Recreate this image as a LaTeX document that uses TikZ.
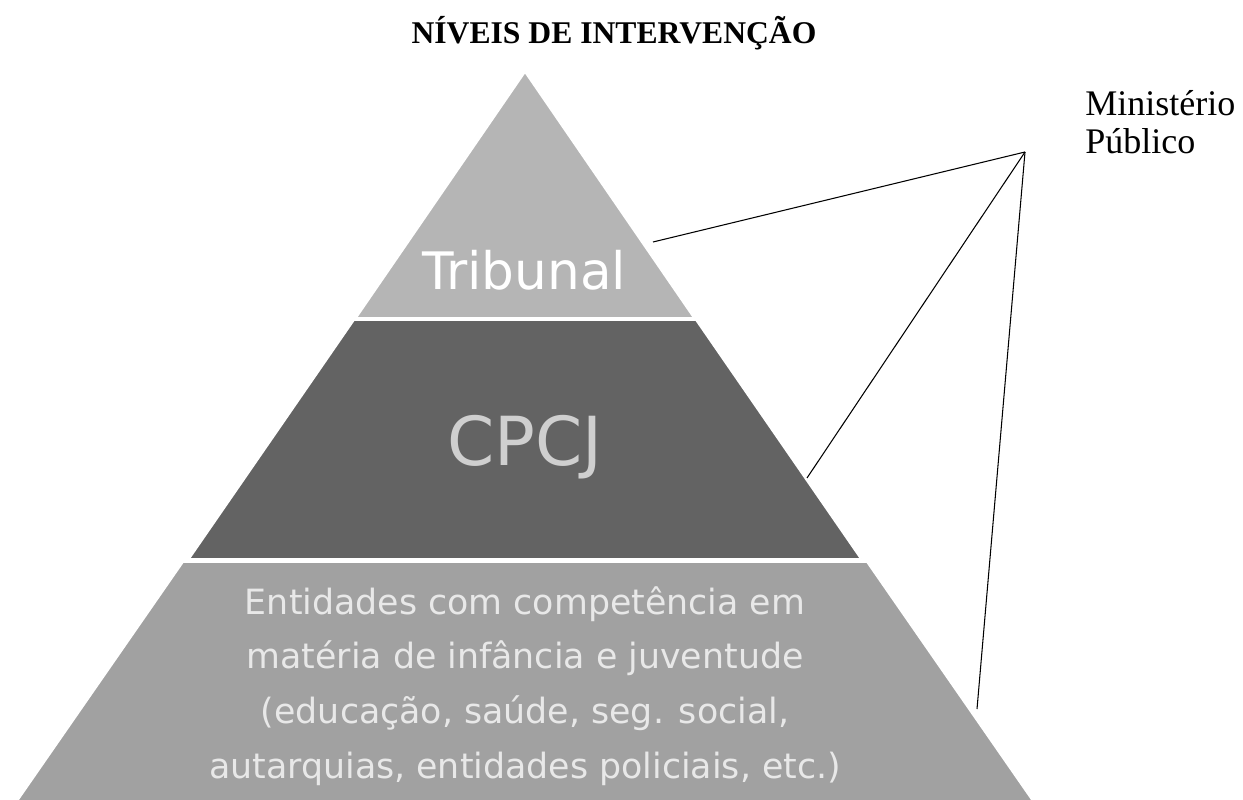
\documentclass[tikz,border=0pt]{standalone}
\usepackage{fontspec}
\setmainfont{Liberation Serif}
\newfontfamily\handfont{DejaVu Sans}
\usetikzlibrary{positioning}
\definecolor{topgray}{HTML}{B5B5B5}
\definecolor{midgray}{HTML}{636363}
\definecolor{basegray}{HTML}{A1A1A1}
\definecolor{midtext}{HTML}{CFCFCF}
\definecolor{basetext}{HTML}{E8E8E8}

\begin{document}
\begin{tikzpicture}[x=0.02cm, y=-0.02cm]
\tikzstyle{band} = [draw=white, line width=1pt, line join=miter]
\tikzstyle{level} = [inner sep=0pt, align=center]
\tikzstyle{link} = [line width=0.6pt, black]

\clip (0,0) rectangle (1243,800);
\fill[white] (0,0) rectangle (1243,800);

% pyramid bands
\filldraw[band, fill=topgray] (525,72) -- (694,318) -- (356,318) -- cycle;
\filldraw[band, fill=midgray] (354,320) -- (696,320) -- (861,559) -- (189,559) -- cycle;
\filldraw[band, fill=basegray] (183,562) -- (867,562) -- (1046,820) -- (4,820) -- cycle;

\node (title) [anchor=base, font=\bfseries\fontsize{18}{20}\selectfont] at (614,44) {NÍVEIS DE INTERVENÇÃO};

\node (tribunal) [level, anchor=base, text=white, font=\handfont\fontsize{29.4}{32}\selectfont] at (524,290) {Tribunal};
\node (cpcj) [level, anchor=base, text=midtext, font=\handfont\fontsize{38.5}{40}\selectfont] at (525,465) {CPCJ};
\node (entidades) [level, text=basetext, font=\handfont\fontsize{19.8}{31.2}\selectfont] at (525,686) {Entidades com competência em\\matéria de infância e juventude\\(educação, saúde, seg. social,\\autarquias, entidades policiais, etc.)};

\node (mp) [anchor=north west, inner sep=0pt, align=left, font=\fontsize{20.5}{21.5}\selectfont] at (1085,90) {Ministério\\Público};

% lines to Ministerio Publico
\coordinate (hub) at (1025,152);
\coordinate (tribunal-edge) at (653,242);
\coordinate (cpcj-edge) at (807,478);
\coordinate (base-edge) at (977,709);
\foreach \target in {tribunal-edge, cpcj-edge, base-edge} {
    \draw[link] (\target) -- (hub);
}

\end{tikzpicture}
\end{document}
